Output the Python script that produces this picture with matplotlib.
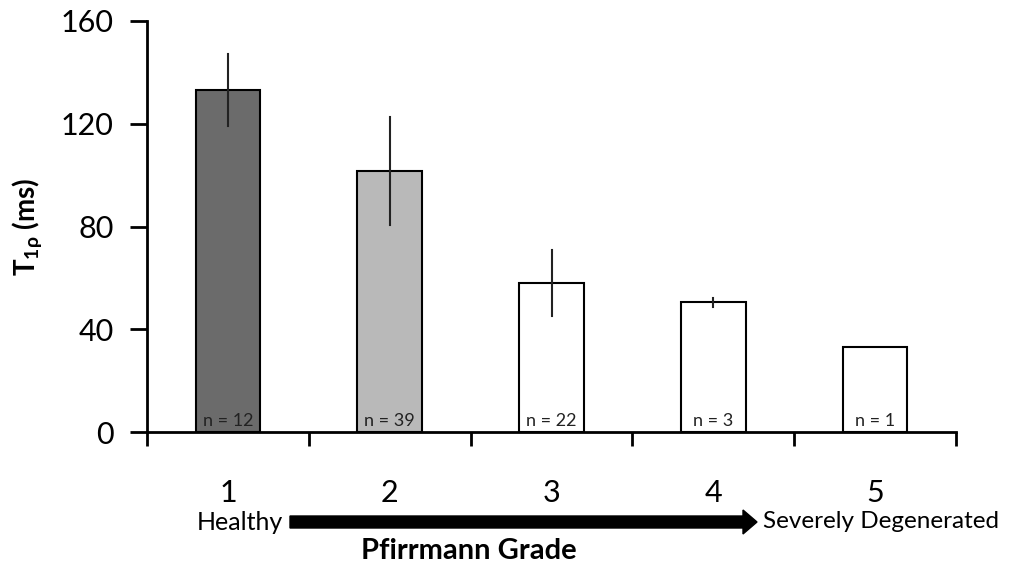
import numpy as np
import matplotlib
matplotlib.use("Agg")
import matplotlib.pyplot as plt
from matplotlib.patches import FancyArrow

plt.rcParams["font.family"] = ["Lato", "DejaVu Sans"]
plt.rcParams["mathtext.fontset"] = "custom"
plt.rcParams["mathtext.rm"] = "Lato"
plt.rcParams["mathtext.bf"] = "Lato:bold"
plt.rcParams["mathtext.it"] = "Lato:italic"
plt.rcParams["mathtext.fallback"] = "stixsans"

# Data
grades = ["1", "2", "3", "4", "5"]
t1rho = [133, 101.5, 58, 50.5, 33]
errors = [14, 21, 13, 1.8, 0]
counts = ["n = 12", "n = 39", "n = 22", "n = 3", "n = 1"]
bar_colors = ["#6b6b6b", "#b9b9b9", "white", "white", "white"]

fig = plt.figure(figsize=(10.19, 5.70), dpi=100)
ax = fig.add_axes([147 / 1019, 1 - 432 / 570, (956 - 147) / 1019, (432 - 21) / 570])

x = np.arange(1, len(grades) + 1)
ax.bar(x, t1rho, width=0.4, color=bar_colors, edgecolor="black", linewidth=1.5, zorder=2)
for xi, v, e in zip(x, t1rho, errors):
    if e > 0:
        ax.plot([xi, xi], [v - e, v + e], color="#222222", linewidth=1.5, zorder=3)
for xi, c in zip(x, counts):
    ax.text(xi, 1.2, c, ha="center", va="bottom", fontsize=13, color="#222222", zorder=4)

ax.set_xlim(0.5, 5.5)
ax.set_ylim(0, 160)
ax.set_yticks([0, 40, 80, 120, 160])
ax.set_xticks(x)
ax.set_xticklabels(grades)
ax.set_xticks(np.arange(0.5, 6, 1), minor=True)
ax.tick_params(axis="x", which="major", length=0, pad=34, labelsize=22)
ax.tick_params(axis="x", which="minor", length=10, width=2, direction="out")
ax.tick_params(axis="y", length=12, width=2, direction="out", labelsize=22, pad=12)

for side in ["top", "right"]:
    ax.spines[side].set_visible(False)
ax.spines["left"].set_linewidth(2)
ax.spines["bottom"].set_linewidth(2)
ax.spines["left"].set_bounds(0, 160)

ax.set_ylabel(r"T$_{\mathbf{1\rho}}$ (ms)", fontsize=20, fontweight="bold", labelpad=12)

# Labels and arrow under the axis
fig.text(240 / 1019, 1 - 522 / 570, "Healthy", ha="center", va="center", fontsize=18)
fig.text(881 / 1019, 1 - 522 / 570, "Severely Degenerated", ha="center", va="center", fontsize=17.5)
fig.text(469 / 1019, 1 - 551 / 570, "Pfirrmann Grade", ha="center", va="center",
         fontsize=21, fontweight="bold")
arrow = FancyArrow(290 / 1019, 1 - 522 / 570, (757 - 290) / 1019, 0,
                   width=12 / 570, head_width=24 / 570, head_length=14 / 1019,
                   length_includes_head=True, color="black", transform=fig.transFigure)
fig.patches.append(arrow)

fig.savefig("out.png", dpi=100)
